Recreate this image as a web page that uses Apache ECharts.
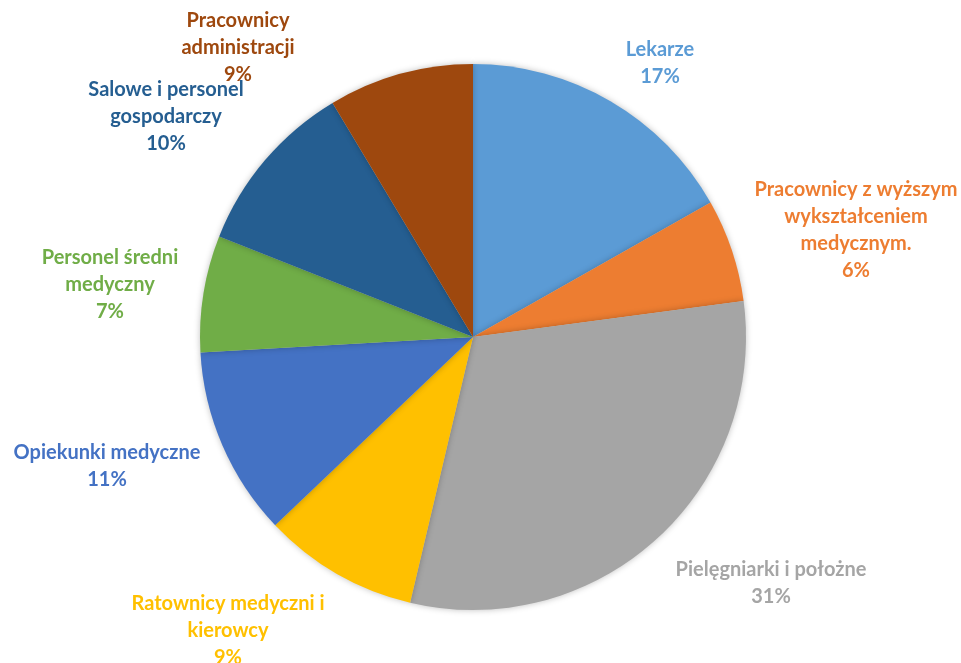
<!DOCTYPE html>
<html><head><meta charset="utf-8">
<script src="https://cdn.jsdelivr.net/npm/echarts@6/dist/echarts.min.js"></script>
<style>html,body{margin:0;padding:0;background:#fff}#c{width:961px;height:663px}</style>
</head><body><div id="c"></div>
<script>
const categories = [
  "Lekarze",
  "Pracownicy z wyższym\nwykształceniem\nmedycznym.",
  "Pielęgniarki i położne",
  "Ratownicy medyczni i\nkierowcy",
  "Opiekunki medyczne",
  "Personel średni\nmedyczny",
  "Salowe i personel\ngospodarczy",
  "Pracownicy\nadministracji"
];
const values = [16.8, 6.1, 30.8, 9.2, 11.2, 6.9, 10.4, 8.6];
const colors = ["#5B9BD5","#ED7D31","#A5A5A5","#FFC000","#4472C4","#70AD47","#255E91","#9E480E"];
// label block centres (layout, not data)
const labelPos = [[660,63],[856,230],[771,583],[228,631],[107,466],[110,285],[166,117],[238,48]];

const chart = echarts.init(document.getElementById('c'));
chart.setOption({
  animation:false,
  series:[{
    type:'pie',
    center:[473,337],
    radius:273,
    startAngle:90,
    clockwise:true,
    data: categories.map((n,i)=>({name:n,value:values[i],itemStyle:{color:colors[i]},label:{color:colors[i]}})),
    itemStyle:{borderWidth:0,shadowBlur:6,shadowColor:'rgba(0,0,0,0.25)'},
    labelLine:{show:false},
    label:{
      show:true, position:'outside', overflow:'none', alignTo:'none',
      fontFamily:'Lato', fontWeight:'bold', fontSize:20, lineHeight:27, align:'center',
      formatter: p => p.name + '\n' + Math.round(p.percent) + '%'
    },
    labelLayout: p => ({x:labelPos[p.dataIndex][0], y:labelPos[p.dataIndex][1], align:'center', verticalAlign:'middle'})
  }]
});
</script></body></html>
